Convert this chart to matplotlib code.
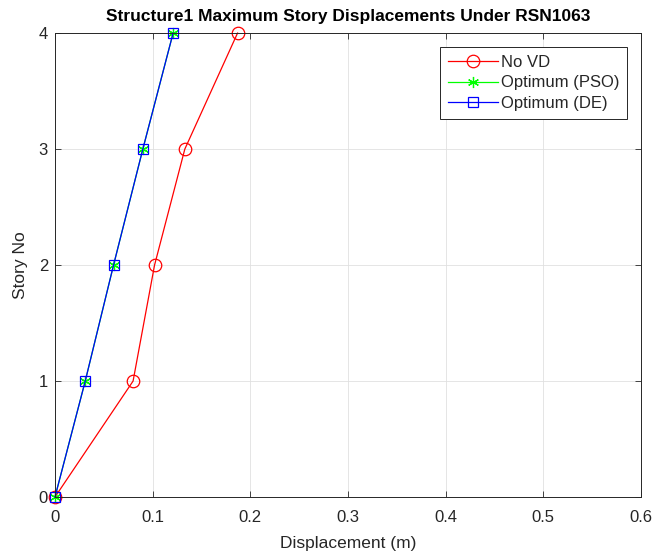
import matplotlib
matplotlib.use("Agg")
import matplotlib.pyplot as plt

plt.rcParams["font.family"] = ["Liberation Sans", "DejaVu Sans"]

stories = [0, 1, 2, 3, 4]
disp_no_vd = [0.0, 0.080, 0.102, 0.133, 0.187]
disp_pso = [0.0, 0.031, 0.060, 0.090, 0.121]
disp_de = [0.0, 0.031, 0.060, 0.090, 0.121]

x_ticks = [0, 0.1, 0.2, 0.3, 0.4, 0.5, 0.6]
x_tick_labels = ["0", "0.1", "0.2", "0.3", "0.4", "0.5", "0.6"]
y_ticks = [0, 1, 2, 3, 4]

axis_gray = "#262626"

fig = plt.figure(figsize=(6.56, 5.56), dpi=100)
ax = fig.add_axes([0.0838, 0.106, 0.893, 0.8345])

ax.plot(disp_no_vd, stories, color="#ff0000", lw=0.9, marker="o", ms=9,
        mfc="none", mec="#ff0000", mew=0.9, label="No VD", clip_on=False)
ax.plot(disp_pso, stories, color="#00ff00", lw=0.9, marker=(6, 2, 0), ms=8,
        mec="#00ff00", mew=0.9, label="Optimum (PSO)", clip_on=False)
ax.plot(disp_de, stories, color="#0000ff", lw=0.9, marker="s", ms=7,
        mfc="none", mec="#0000ff", mew=0.9, label="Optimum (DE)", clip_on=False)

ax.set_xlim(0, 0.6)
ax.set_ylim(0, 4)
ax.set_xticks(x_ticks)
ax.set_xticklabels(x_tick_labels)
ax.set_yticks(y_ticks)
ax.tick_params(direction="in", top=True, right=True, length=4, width=0.6,
               labelsize=12, colors=axis_gray)
ax.tick_params(axis="x", pad=9)
ax.tick_params(axis="y", pad=5)
for spine in ax.spines.values():
    spine.set_color(axis_gray)
    spine.set_linewidth(0.7)
ax.grid(True, color="#e0e0e0", lw=0.6)
ax.set_axisbelow(True)

ax.set_xlabel("Displacement (m)", fontsize=12.5, color=axis_gray, labelpad=8)
ax.set_ylabel("Story No", fontsize=12.5, color=axis_gray, labelpad=8)
ax.set_title("Structure1 Maximum Story Displacements Under RSN1063",
             fontsize=12.5, fontweight="bold", pad=9)

leg = ax.legend(loc="upper right", bbox_to_anchor=(0.977, 0.97), fontsize=12,
                fancybox=False, framealpha=1, edgecolor=axis_gray,
                handlelength=3.0, borderpad=0.45, labelspacing=0.35,
                handletextpad=0.2, borderaxespad=0)
leg.get_frame().set_linewidth(0.7)
for t in leg.get_texts():
    t.set_color(axis_gray)

fig.savefig("out.png", dpi=100)
